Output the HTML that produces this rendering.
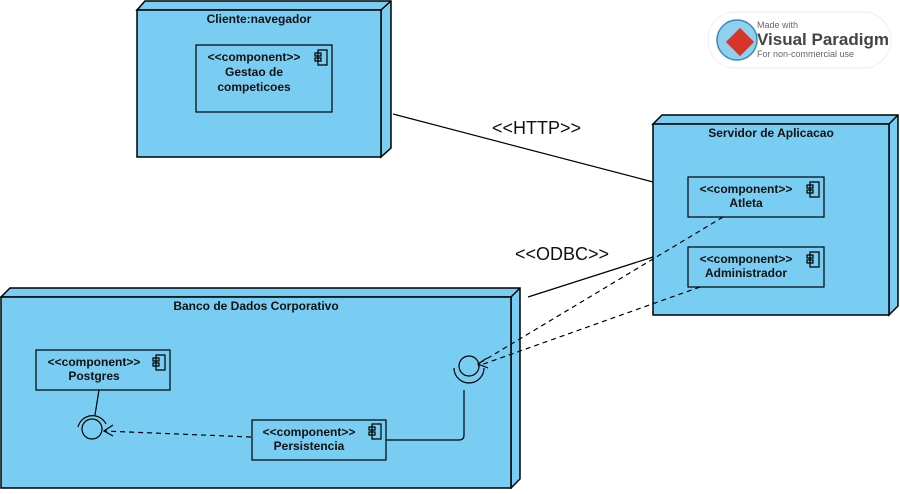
<!DOCTYPE html>
<html><head><meta charset="utf-8"><style>
body{margin:0;background:#fff;}
svg text{font-family:"Liberation Sans",sans-serif;}
</style></head><body>
<svg width="900" height="489" viewBox="0 0 900 489" xmlns="http://www.w3.org/2000/svg">
<g stroke="#000" stroke-width="1.5" fill="#7acdf2">
<polygon points="137,10 145,1 391,1 391,148 381,157 381,10"/>
<line x1="381" y1="10" x2="391" y2="1"/>
<rect x="137" y="10" width="244" height="147"/>
<polygon points="653,124 662,115 898,115 898,306 889,315 889,124"/>
<line x1="889" y1="124" x2="898" y2="115"/>
<rect x="653" y="124" width="236" height="191"/>
<polygon points="1,297 10,288 520,288 520,479 511,488 511,297"/>
<line x1="511" y1="297" x2="520" y2="288"/>
<rect x="1" y="297" width="510" height="191"/>
</g>
<g stroke="#000" stroke-width="1.2" fill="none">
<rect x="196" y="45" width="136" height="67"/>
<rect x="688" y="177" width="136" height="40"/>
<rect x="688" y="247" width="136" height="40"/>
<rect x="36" y="350" width="134" height="40"/>
<rect x="252" y="420" width="134" height="40"/>
<line x1="393" y1="114" x2="653" y2="182"/>
<line x1="528" y1="297" x2="653" y2="257"/>
<line x1="99" y1="390" x2="95" y2="415"/>
<path d="M386,440 H459 Q464,440 464,435 V390"/>
<circle cx="92" cy="429" r="10"/>
<path d="M78,427 A15,15 0 0 1 106,424"/>
<circle cx="469" cy="366" r="10"/>
<path d="M454,368 A15,15 0 0 0 484,368"/>
<g stroke-dasharray="5,4">
<line x1="251" y1="437" x2="104" y2="431"/>
<line x1="723" y1="217" x2="478" y2="364"/>
<line x1="700" y1="287" x2="478" y2="366"/>
</g>
<path d="M113,425 L104,431 L113,436"/>
<path d="M487,358 L478,364 L488,368"/>
</g>
<g fill="none" stroke="#000" stroke-width="1.2">
<path d="M188,0"/>
<path d="M318,50h9v15h-9z M315,53h6v3h-6z M315,58h6v3h-6z"/>
<path d="M810,182h9v15h-9z M807,185h6v3h-6z M807,190h6v3h-6z"/>
<path d="M810,252h9v15h-9z M807,255h6v3h-6z M807,260h6v3h-6z"/>
<path d="M156,355h9v15h-9z M153,358h6v3h-6z M153,363h6v3h-6z"/>
<path d="M372,424h9v15h-9z M369,427h6v3h-6z M369,432h6v3h-6z"/>
</g>
<g font-size="12" font-weight="bold" fill="#111" text-anchor="middle">
<text x="259" y="23">Cliente:navegador</text>
<text x="254" y="61">&lt;&lt;component&gt;&gt;</text>
<text x="254" y="76">Gestao de</text>
<text x="254" y="91">competicoes</text>
<text x="771" y="137">Servidor de Aplicacao</text>
<text x="746" y="193">&lt;&lt;component&gt;&gt;</text>
<text x="746" y="207">Atleta</text>
<text x="746" y="263">&lt;&lt;component&gt;&gt;</text>
<text x="746" y="277">Administrador</text>
<text x="256" y="310">Banco de Dados Corporativo</text>
<text x="94" y="366">&lt;&lt;component&gt;&gt;</text>
<text x="94" y="380">Postgres</text>
<text x="309" y="436">&lt;&lt;component&gt;&gt;</text>
<text x="309" y="450">Persistencia</text>
</g>
<g font-size="18" fill="#111">
<text x="492" y="134">&lt;&lt;HTTP&gt;&gt;</text>
<text x="515" y="260">&lt;&lt;ODBC&gt;&gt;</text>
</g>
<rect x="708" y="12" width="183" height="56" rx="28" fill="#fff" stroke="#eee"/>
<circle cx="737" cy="40" r="20" fill="#8fd0ef" stroke="#3a8ab8" stroke-width="1.5"/>
<rect x="730" y="32" width="20" height="20" fill="#d9342b" transform="rotate(45 740 42)"/>
<text x="757" y="28" font-size="9" fill="#666">Made with</text>
<text x="757" y="45" font-size="17" font-weight="bold" fill="#444">Visual Paradigm</text>
<text x="757" y="57" font-size="9" fill="#666">For non-commercial use</text>
</svg>
</body></html>
